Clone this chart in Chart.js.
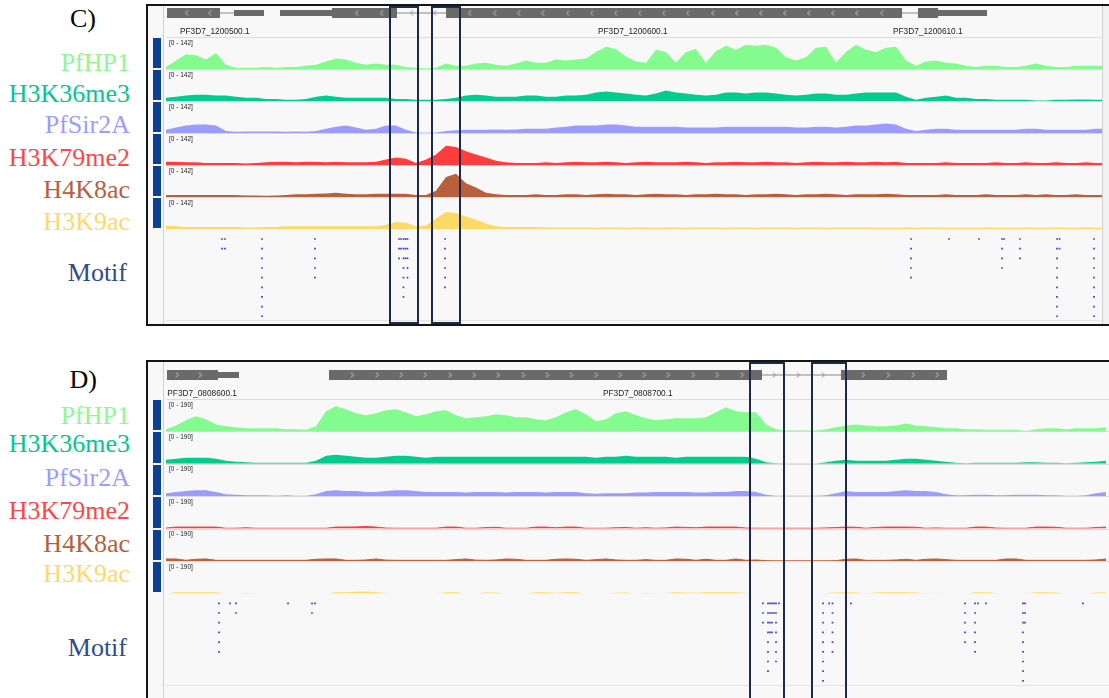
<!DOCTYPE html>
<html><head><meta charset="utf-8">
<script src="https://cdn.jsdelivr.net/npm/chart.js@4.4.1/dist/chart.umd.min.js"></script>
<style>
html,body{margin:0;padding:0;background:#ffffff;}
body{width:1109px;height:698px;overflow:hidden;position:relative;font-family:"Liberation Sans",Arial,sans-serif;}
.panel{position:absolute;border:2px solid #151515;background:#f8f8f8;box-sizing:border-box;}
.vline{position:absolute;width:1px;background:#cfcfcf;}
.lbl{position:absolute;left:0;text-align:right;font-family:"Liberation Serif","Times New Roman",serif;font-size:26px;line-height:26px;white-space:nowrap;}
.blue{position:absolute;left:153px;width:8px;background:#0b3f94;}
.gname{position:absolute;font-size:8.3px;line-height:1;color:#222;white-space:nowrap;}
.rng{position:absolute;font-size:6.5px;line-height:1;color:#222;white-space:nowrap;}
canvas{position:absolute;}
</style></head>
<body>
<div class="panel" style="left:146px;top:4px;width:1000px;height:322px;"></div>
<div class="panel" style="left:146px;top:360px;width:1000px;height:400px;"></div>
<div class="vline" style="left:163px;top:6px;height:318px;"></div>
<div class="vline" style="left:163px;top:362px;height:336px;"></div>
<canvas id="chartC" width="943" height="318" style="left:166px;top:6px;"></canvas>
<canvas id="chartD" width="943" height="336" style="left:166px;top:362px;"></canvas>
<div style="position:absolute;left:1102px;top:6px;width:7px;height:318px;background:#f1f1f1;border-left:1px solid #d0d0d0;"></div>
<script>
// ---------- shared ----------
const trackNames = ["PfHP1","H3K36me3","PfSir2A","H3K79me2","H4K8ac","H3K9ac"];
const trackColors = ["#84fb8e","#00cc8e","#9c9cff","#ff3d3d","#b8603c","#ffd966"];
const labelColors = ["#8ef98e","#00c88f","#9c9cff","#ff4545","#b85f3a","#ffd966"];
const motifLabel = "Motif";
const rangeC = "[0 - 142]", rangeD = "[0 - 190]";
const maxC = 142, maxD = 190;

// ---------- panel C signal (bins across the window) ----------
const C_PfHP1 = [9,38,66,61,42,71,19,5,5,5, 9,5,9,9,14,19,33,47,42,28, 19,24,19,19,9,5,2,5,24,14, 14,24,28,19,14,24,38,28,28,42,
 38,42,47,75,99,89,56,33,28,85, 75,28,75,89,28,80,103,85,108,103, 108,94,52,38,52,94,99,28,75,108, 85,75,94,99,38,14,33,38,28,24,
 14,9,14,14,9,9,14,24,14,9, 9,14,14,14,14];
const C_H3K36me3 = [14,19,24,28,28,24,24,19,14,14, 9,9,5,5,9,19,24,19,14,14, 14,14,14,9,9,5,5,5,9,14, 24,28,24,19,19,19,24,24,19,19,
 24,24,28,38,42,38,33,28,24,33, 47,38,33,28,24,28,38,38,33,38, 38,33,28,24,28,33,33,28,28,33, 38,38,38,38,19,5,14,19,24,14,
 14,9,9,5,5,5,5,2,2,5, 5,7,7,5,5];
const C_PfSir2A = [14,24,33,38,38,33,9,5,7,7, 7,7,5,7,5,9,19,28,33,24, 14,19,33,33,14,2,1,2,9,12, 14,14,14,16,14,16,19,19,19,24,
 28,33,33,33,38,38,33,28,28,28, 28,28,24,24,24,24,28,28,28,28, 28,28,28,24,24,28,28,24,28,33, 33,38,42,38,19,9,14,19,19,14,
 14,14,14,14,14,14,19,19,14,14, 14,14,14,19,19];
const C_H3K79me2 = [14,14,12,12,9,9,9,9,7,9, 12,14,14,12,14,14,12,14,12,12, 12,14,24,33,28,9,24,47,85,80, 61,47,33,19,12,9,9,9,12,9,
 12,14,12,12,14,12,9,12,14,12, 12,12,14,12,9,12,12,14,12,12, 14,12,12,9,12,14,12,12,14,12, 12,14,12,14,9,9,9,9,12,9,
 9,9,9,12,9,9,12,9,9,12, 9,9,12,9,9];
const C_H4K8ac = [9,9,9,9,9,9,9,9,7,7, 5,7,9,12,12,14,16,19,14,12, 12,14,14,14,14,9,9,28,89,103, 61,42,19,12,9,9,9,12,9,9,
 12,12,9,12,14,12,12,9,12,14, 12,12,9,12,12,14,12,12,9,12, 12,14,12,9,12,12,14,12,9,12, 12,12,14,12,9,9,9,9,12,9,
 9,9,12,9,9,9,12,9,12,9, 9,12,9,9,9];
const C_H3K9ac = [14,12,9,9,9,9,9,9,7,7, 9,9,12,12,12,12,12,12,12,12, 12,12,19,31,28,12,16,47,75,71, 56,42,24,12,9,9,9,9,7,7,
 7,7,7,5,7,7,5,7,7,5, 7,7,5,7,7,7,5,7,7,5, 7,7,7,5,7,7,5,7,7,7, 7,5,5,5,7,5,7,7,5,5,
 5,5,7,5,5,5,7,5,5,7, 5,5,7,5,5];

// ---------- panel D signal ----------
const D_PfHP1 = [12,35,65,89,71,41,30,24,18,18, 18,18,12,12,9,30,118,148,130,106, 94,106,124,130,112,89,100,118,124,94,
 77,83,89,100,94,83,83,71,65,83, 112,130,100,59,71,106,118,94,77,65, 71,77,77,77,83,112,142,118,112,112,
 41,12,6,6,6,6,12,24,35,41, 35,30,30,35,47,35,30,24,18,18, 12,12,9,9,9,9,3,12,18,18, 12,18,18,18,24];
const D_H3K36me3 = [24,30,35,35,35,30,18,12,9,6, 6,6,6,6,6,18,47,53,47,41, 35,35,41,47,47,41,35,41,41,41,
 41,41,41,41,41,41,41,41,41,41, 41,41,41,35,41,41,47,41,41,41, 41,35,41,41,41,41,41,41,41,30,
 9,3,2,2,2,2,9,18,24,18, 18,18,18,24,30,30,24,18,12,6, 3,6,6,6,6,6,9,9,6,6, 3,6,9,12,18];
const D_PfSir2A = [18,24,30,35,35,24,12,9,6,6, 6,3,6,3,3,12,30,35,30,30, 24,24,30,35,35,30,24,24,24,24,
 21,24,24,24,21,24,24,24,21,24, 24,24,18,15,18,18,18,21,21,24, 24,24,24,21,21,24,24,30,30,24,
 9,2,2,2,2,2,6,18,30,24, 24,24,24,30,35,30,30,24,12,6, 6,9,9,6,6,9,9,9,6,6, 3,3,6,18,24];
const D_H3K79me2 = [3,9,9,9,9,9,2,2,5,2, 2,2,2,2,2,2,2,9,9,10, 12,9,3,2,2,2,2,2,9,9, 2,2,6,8,2,2,2,9,9,5,
 9,9,2,2,2,5,7,2,5,2, 4,9,7,5,9,9,9,9,3,2, 2,2,2,2,2,2,4,6,9,8, 2,7,9,9,9,8,2,4,2,2,
 2,9,9,3,2,2,2,9,9,8, 2,2,2,6,9];
const D_H4K8ac = [12,12,4,10,12,4,4,4,4,4, 4,4,4,4,4,10,12,12,4,4, 6,12,5,4,4,4,4,4,4,8, 12,5,4,6,12,10,4,4,4,10,
 12,10,4,8,12,6,4,4,8,4, 4,12,10,4,10,4,4,12,4,6, 2,1,1,1,1,1,1,2,10,12, 4,4,4,6,10,4,10,12,8,4,
 4,4,4,4,12,12,4,4,4,4, 4,4,4,6,12];
const D_H3K9ac = [0,7,7,7,7,7,0,0,4,0, 0,0,0,0,0,0,0,7,7,9, 11,7,2,0,0,0,0,0,7,7, 0,0,5,6,0,0,0,7,7,4,
 7,7,0,0,0,4,6,0,4,0, 3,7,6,4,7,7,7,7,2,0, 0,0,0,0,0,0,3,5,7,6, 0,6,7,7,7,6,0,3,0,0,
 0,7,7,2,0,0,0,7,7,6, 0,0,0,5,7];

// ---------- gene models (positions in window bins) ----------
const geneC_exons = [[0.1,5.4],[16.6,23.1],[28.0,73.6],[75.2,77.2]];
const geneC_utr = [[6.8,9.8],[11.4,16.6],[77.2,82.1]];
const geneC_introns = [[5.4,6.8],[23.1,28.0],[73.6,75.2]];
const geneC_chevExon = [2.1,4.4,19.1,21.6,30.4,32.9,35.3,37.7,40.2,42.6,45.0,47.4,49.8,52.2,54.7,57.1,59.5,61.9,64.3,66.7,69.1,71.6];
const geneC_chevIntron = [24.6,26.9];
const geneC_names = [["PF3D7_1200500.1",1.4],["PF3D7_1200600.1",43.2],["PF3D7_1200610.1",72.7]];

const geneD_exons = [[0.1,5.2],[16.3,59.6],[67.5,78.1]];
const geneD_utr = [[5.2,7.3]];
const geneD_introns = [[59.6,67.5]];
const geneD_chevExon = [1.1,3.4,18.6,21.1,23.5,25.9,28.4,30.8,33.2,35.7,38.1,40.5,43.0,45.4,47.8,50.2,52.7,55.1,57.6,69.7,72.2,74.7,77.1];
const geneD_chevIntron = [60.8,63.2,65.7];
const geneD_names = [["PF3D7_0808600.1",0.13],["PF3D7_0808700.1",43.7]];

// ---------- motif hits: [position, number of stacked hits] ----------
const motifC = [[5.6,2],[5.9,2],[9.6,9],[14.9,5],[23.3,3],[23.5,2],[23.75,7],[23.95,3],[24.15,5],[27.9,6],
 [74.5,5],[78.3,1],[81.3,1],[83.6,4],[83.8,1],[85.4,3],[89.1,9],[89.35,2],[92.8,9]];
const motifD = [[5.3,6],[6.4,1],[7.0,2],[12.2,1],[14.6,2],[14.9,1],
 [59.7,3],[60.2,8],[60.4,4],[60.6,4],[60.8,2],[61.0,7],[61.3,1],
 [65.7,9],[66.3,1],[66.65,6],[68.5,1],[79.9,5],[80.9,6],[81.2,1],[82.0,1],[85.7,9],[85.9,3],[91.7,1]];

// ---------- highlighted regions ----------
const boxesC = [[22.4,25.2],[26.6,29.4]];
const boxesD = [[58.4,61.8],[64.6,68.0]];

// ---------- helpers ----------
function chevron(dir, color){
  const c = document.createElement('canvas'); c.width = 5; c.height = 7;
  const g = c.getContext('2d'); g.strokeStyle = color; g.lineWidth = 1;
  g.beginPath();
  if (dir < 0){ g.moveTo(3.5,1); g.lineTo(1.2,3.5); g.lineTo(3.5,6); }
  else { g.moveTo(1.5,1); g.lineTo(3.8,3.5); g.lineTo(1.5,6); }
  g.stroke(); return c;
}
function segs(list, row){
  const out = [];
  list.forEach(([a,b],k) => { if (k) out.push({x:a, y:null}); out.push({x:a,y:row},{x:b,y:row}); });
  return out;
}
function motifPoints(cols){
  const pts = [];
  cols.forEach(([x,n]) => { for (let r = 0; r < n; r++) pts.push({x:x, y:r}); });
  return pts;
}
const decor = {
  id:'decor',
  beforeDatasetsDraw(chart, args, o){
    const ctx = chart.ctx, L = chart.chartArea.left, R = chart.chartArea.right;
    ctx.save(); ctx.lineWidth = 1; ctx.strokeStyle = '#dcdcdc';
    for (let i = 0; i < 6; i++){
      const y = Math.round(chart.scales['t'+i].top) + 0.5;
      ctx.beginPath(); ctx.moveTo(L,y); ctx.lineTo(R,y); ctx.stroke();
    }
    ctx.strokeStyle = '#e4e4e4';
    const yb = Math.round(chart.scales.motif.getPixelForValue(o.motifEnd)) + 0.5;
    ctx.beginPath(); ctx.moveTo(L,yb); ctx.lineTo(R,yb); ctx.stroke();
    ctx.restore();
  },
  afterDatasetsDraw(chart, args, o){
    const ctx = chart.ctx, xs = chart.scales.x;
    const top = chart.scales.gene.top + 1;
    const bot = o.openBottom ? chart.height + 10 : chart.scales.motif.bottom - 1;
    ctx.save(); ctx.strokeStyle = '#1a2a48'; ctx.lineWidth = 2;
    o.boxes.forEach(([a,b]) => {
      const x1 = xs.getPixelForValue(a), x2 = xs.getPixelForValue(b);
      ctx.strokeRect(x1, top, x2 - x1, bot - top);
    });
    ctx.restore();
  }
};

function buildPanel(cfg){
  const datasets = [];
  datasets.push({type:'scatter', yAxisID:'gene', order:0, data: cfg.chevExon.map(p=>({x:p,y:cfg.geneRow})), pointStyle: chevron(cfg.dir,'#cfcfcf'), pointRadius:3});
  datasets.push({type:'scatter', yAxisID:'gene', order:0, data: cfg.chevIntron.map(p=>({x:p,y:cfg.geneRow})), pointStyle: chevron(cfg.dir,'#8a8a8a'), pointRadius:3});
  datasets.push({type:'line', yAxisID:'gene', order:1, data: segs(cfg.exons, cfg.geneRow), borderColor:'#6a6a6a', borderWidth:10, borderCapStyle:'butt', pointRadius:0, fill:false, spanGaps:false});
  datasets.push({type:'line', yAxisID:'gene', order:2, data: segs(cfg.utr, cfg.geneRow), borderColor:'#6a6a6a', borderWidth:6, borderCapStyle:'butt', pointRadius:0, fill:false, spanGaps:false});
  datasets.push({type:'line', yAxisID:'gene', order:3, data: segs(cfg.introns, cfg.geneRow), borderColor:'#8a8a8a', borderWidth:1, borderCapStyle:'butt', pointRadius:0, fill:false, spanGaps:false});
  cfg.tracks.forEach((vals, i) => datasets.push({
    type:'line', label: trackNames[i], yAxisID:'t'+i, order:4,
    data: vals.map((v,j)=>({x:j, y:v})),
    backgroundColor: trackColors[i], borderColor: trackColors[i], borderWidth: cfg.trackBorder[i],
    fill:'origin', pointRadius:0, tension:0
  }));
  datasets.push({type:'scatter', label: motifLabel, yAxisID:'motif', order:0, data: motifPoints(cfg.motif),
    pointStyle:'rect', pointRadius:1.2, backgroundColor:'rgba(40,40,205,0.9)', borderWidth:0});

  const scales = { x:{type:'linear', min:0, max:94.3, display:false} };
  scales.gene = {type:'linear', position:'left', stack:'p', stackWeight:cfg.geneH, weight:20, min:0, max:1, reverse:true, display:false};
  for (let i = 0; i < 6; i++) scales['t'+i] = {type:'linear', position:'left', stack:'p', stackWeight:cfg.trackH, weight:19-i, min:0, max:cfg.ymax, display:false};
  scales.motif = {type:'linear', position:'left', stack:'p', stackWeight:cfg.motifH, weight:1, min:cfg.motifMin, max:cfg.motifMax, reverse:true, display:false};

  const chart = new Chart(document.getElementById(cfg.canvas), {
    type:'line',
    data:{datasets},
    options:{
      responsive:false, animation:false, devicePixelRatio:1, events:[],
      layout:{padding:0, autoPadding:false},
      scales,
      plugins:{legend:{display:false}, tooltip:{enabled:false},
        decor:{boxes:cfg.boxes, motifEnd:cfg.motifEnd, openBottom:cfg.openBottom}}
    },
    plugins:[decor]
  });

  const xs = chart.scales.x, gs = chart.scales.gene;
  cfg.names.forEach(([txt,pos]) => {
    const d = document.createElement('div'); d.className = 'gname'; d.textContent = txt;
    d.style.left = (cfg.left + xs.getPixelForValue(pos)) + 'px';
    d.style.top = (cfg.top + gs.getPixelForValue(cfg.nameRow) - 6.9) + 'px';
    document.body.appendChild(d);
  });
  for (let i = 0; i < 6; i++){
    const s = chart.scales['t'+i];
    const r = document.createElement('div'); r.className = 'rng'; r.textContent = cfg.range;
    r.style.left = (cfg.left + 3) + 'px'; r.style.top = (cfg.top + s.top + 2.5) + 'px';
    document.body.appendChild(r);
    const b = document.createElement('div'); b.className = 'blue';
    b.style.top = (cfg.top + s.top + 1) + 'px'; b.style.height = (s.bottom - s.top - 2) + 'px';
    document.body.appendChild(b);
  }
  return chart;
}

buildPanel({canvas:'chartC', left:166, top:6, dir:-1, ymax:maxC, range:rangeC,
  tracks:[C_PfHP1,C_H3K36me3,C_PfSir2A,C_H3K79me2,C_H4K8ac,C_H3K9ac], trackBorder:[0,0,0,0,0,0],
  exons:geneC_exons, utr:geneC_utr, introns:geneC_introns, chevExon:geneC_chevExon, chevIntron:geneC_chevIntron,
  names:geneC_names, motif:motifC, boxes:boxesC,
  geneH:31, trackH:32, motifH:95, geneRow:0.226, nameRow:0.903,
  motifMin:-1.035, motifMax:8.80, motifEnd:8.39, openBottom:false});

buildPanel({canvas:'chartD', left:166, top:362, dir:1, ymax:maxD, range:rangeD,
  tracks:[D_PfHP1,D_H3K36me3,D_PfSir2A,D_H3K79me2,D_H4K8ac,D_H3K9ac], trackBorder:[0,0,0,1,1,0],
  exons:geneD_exons, utr:geneD_utr, introns:geneD_introns, chevExon:geneD_chevExon, chevIntron:geneD_chevIntron,
  names:geneD_names, motif:motifD, boxes:boxesD,
  geneH:37, trackH:32.4, motifH:104.6, geneRow:0.351, nameRow:0.919,
  motifMin:-1.02, motifMax:9.76, motifEnd:8.42, openBottom:true});

// ---------- side labels ----------
function addLabel(text, color, right, baseline){
  const d = document.createElement('div'); d.className = 'lbl'; d.textContent = text;
  d.style.color = color; d.style.width = right + 'px'; d.style.top = (baseline - 21.8) + 'px';
  document.body.appendChild(d);
}
const baselinesC = [72,103,134,167,199,231];
const baselinesD = [425,453,487,520,553,583];
trackNames.forEach((n,i) => { addLabel(n, labelColors[i], 130, baselinesC[i]); addLabel(n, labelColors[i], 130, baselinesD[i]); });
addLabel(motifLabel, '#2f4b8f', 127, 282);
addLabel(motifLabel, '#2f4b8f', 127, 657);
addLabel("C)", '#000', 96, 28);
addLabel("D)", '#000', 97, 389);
</script>
</body></html>
